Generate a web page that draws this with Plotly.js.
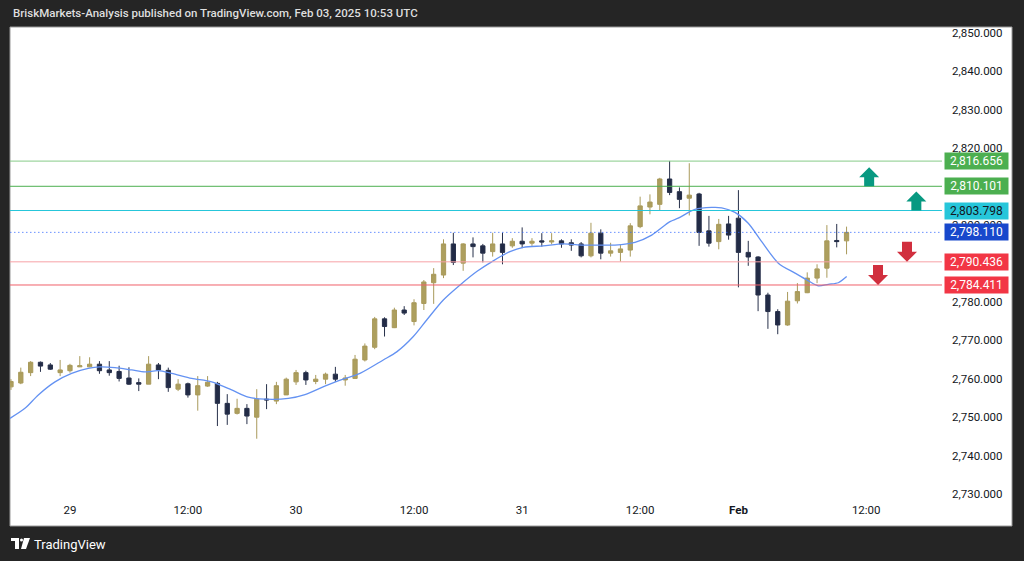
<!DOCTYPE html>
<html>
<head>
<meta charset="utf-8">
<script src="https://cdn.plot.ly/plotly-3.0.1.min.js"></script>
<style>
html,body{margin:0;padding:0;background:#252525;}
#chart{width:1024px;height:561px;}
</style>
</head>
<body>
<div id="chart"></div>
<script>
// Hourly bars, index 0 = Jan 28 17:00 ... index 85 = Feb 3 10:00
const barOpen = [2757.9,2758.9,2761.6,2764.3,2763.6,2761.6,2762.1,2763.1,2763.1,2763.8,
 2762.3,2761.9,2760.2,2759.0,2758.6,2763.6,2762.2,2757.3,2758.7,2755.8,
 2758.1,2758.8,2753.6,2751.0,2752.3,2750.0,2754.7,2754.2,2755.8,2759.2,
 2761.6,2759.3,2759.9,2761.2,2759.7,2760.1,2764.9,2768.2,2775.6,2773.3,
 2777.9,2774.9,2779.6,2785.0,2787.0,2795.1,2790.1,2795.1,2794.6,2793.1,
 2795.1,2794.6,2795.8,2795.3,2795.9,2795.6,2795.9,2795.4,2795.1,2792.0,
 2797.9,2792.7,2792.9,2793.5,2799.6,2804.7,2805.4,2812.0,2808.7,2807.0,
 2808.1,2798.5,2795.7,2800.3,2801.8,2792.9,2791.7,2781.8,2777.5,2774.0,
 2780.3,2782.4,2786.2,2788.8,2796.0,2795.9];
const barHigh = [2759.9,2762.9,2764.6,2764.5,2764.1,2764.9,2763.9,2765.9,2765.6,2764.6,
 2764.6,2763.4,2763.0,2760.1,2765.9,2764.1,2762.9,2759.9,2759.0,2760.7,
 2760.7,2759.2,2756.0,2754.8,2753.4,2757.3,2758.6,2759.2,2760.3,2762.3,
 2762.1,2761.0,2761.6,2763.1,2761.0,2766.2,2769.2,2776.1,2776.0,2778.5,
 2778.9,2780.7,2785.7,2788.8,2796.3,2798.0,2795.3,2796.8,2795.1,2798.0,
 2798.0,2796.6,2799.4,2796.6,2797.9,2797.9,2796.3,2796.3,2795.6,2800.6,
 2798.9,2795.4,2794.8,2800.5,2807.4,2808.0,2812.3,2816.7,2809.8,2816.1,
 2808.4,2802.4,2801.6,2802.4,2809.1,2795.9,2791.9,2782.4,2778.1,2782.6,
 2784.9,2787.7,2789.8,2800.0,2800.3,2799.6];
const barLow = [2757.1,2758.6,2760.7,2761.8,2762.3,2760.7,2761.6,2763.1,2763.0,2761.3,
 2760.8,2759.3,2758.4,2756.8,2758.6,2759.9,2756.6,2756.8,2755.1,2751.7,
 2757.9,2747.7,2748.0,2750.7,2748.2,2744.4,2752.1,2753.4,2755.8,2758.4,
 2758.4,2758.6,2758.6,2759.2,2758.2,2760.0,2764.5,2767.7,2771.0,2773.2,
 2776.6,2773.9,2777.9,2779.5,2786.2,2789.6,2788.1,2791.6,2790.3,2791.8,
 2789.8,2794.1,2794.0,2794.6,2794.4,2795.0,2794.1,2793.3,2791.6,2791.6,
 2791.1,2791.8,2790.5,2791.8,2799.2,2802.8,2803.9,2807.8,2804.4,2802.5,
 2794.6,2794.4,2793.7,2796.2,2783.8,2789.4,2777.6,2773.0,2771.6,2773.8,
 2779.6,2782.3,2784.9,2786.3,2794.2,2792.4];
const barClose = [2759.3,2761.7,2764.3,2763.3,2762.5,2762.3,2763.5,2763.4,2763.8,2762.1,
 2761.6,2760.1,2758.6,2758.6,2763.8,2762.3,2757.7,2758.6,2755.8,2758.2,
 2759.1,2753.6,2750.8,2752.3,2750.3,2754.7,2754.5,2758.2,2759.9,2761.6,
 2759.7,2759.9,2761.2,2759.9,2760.2,2765.1,2768.5,2775.6,2773.6,2777.9,
 2777.1,2779.8,2785.2,2787.2,2795.1,2790.3,2795.1,2794.4,2792.7,2795.1,
 2792.9,2795.8,2795.1,2795.8,2795.6,2795.9,2795.1,2794.8,2792.0,2797.9,
 2792.7,2793.3,2793.8,2799.8,2805.0,2806.0,2812.0,2808.5,2806.7,2807.8,
 2798.1,2795.3,2800.2,2797.4,2792.9,2791.7,2781.8,2777.5,2774.0,2780.2,
 2782.7,2786.2,2788.6,2795.9,2795.7,2798.11];

// Moving average line (bar index, price)
const emaX = [-0.1,1.42,2.78,4.48,6.17,7.86,9.05,10.58,12.28,13.63,14.98,16.35,18.38,20.42,22.45,24.14,25.84,28.21,29.91,32.12,33.8,35.5,37.87,39.24,40.93,42.29,43.98,45.68,47.38,49.06,50.76,52.12,54.15,56.19,58.22,60.25,61.44,63.48,65.18,67.04,67.88,69.58,71.28,72.3,73.65,75.0,76.37,78.06,79.76,81.11,82.12,83.14,84.16,85.01];
const emaY = [2749.7,2752.3,2755.8,2759.2,2761.4,2762.7,2763.1,2762.9,2762.3,2761.8,2762.1,2761.4,2760.1,2759.2,2757.1,2755.2,2754.7,2754.9,2755.9,2758.3,2759.9,2761.4,2764.9,2767.0,2771.0,2775.3,2780.5,2784.4,2787.9,2790.7,2793.1,2794.2,2794.6,2795.1,2794.8,2794.8,2794.8,2795.5,2797.4,2800.9,2801.8,2804.1,2804.6,2804.5,2803.3,2800.5,2795.7,2790.1,2787.5,2785.5,2784.2,2784.6,2785.0,2786.6];

// Time axis labels
const tickIdx = [6,18,29,41,52,64,74,87];
const tickText = ['29','12:00','30','12:00','31','12:00','<b>Feb</b>','12:00'];

// Price levels
const levelValues = [2816.656, 2810.101, 2803.798, 2790.436, 2784.411];
const levelLineColors = ['#86cc89', '#4caf50', '#26c6da', '#f7a1a6', '#f0606a'];
const levelBoxColors = ['#4caf50', '#4caf50', '#26c6da', '#f23645', '#f23645'];
const levelTextColors = ['#ffffff', '#ffffff', '#131722', '#ffffff', '#ffffff'];
const lastPrice = 2798.110;

// Arrows (bar index, level price they sit on, direction)
const arrowX = [87.3, 92.1, 91.15, 88.2];
const arrowY = [2810.101, 2803.798, 2790.436, 2784.411];
const arrowDir = ['up', 'up', 'down', 'down'];

// price scale ticks (2,810 and 2,790 sit fully under the level boxes)
const yTicks = [2730,2740,2750,2760,2770,2780,2800,2820,2830,2840,2850];

const idx = barOpen.map((_, i) => i);

const fmt = v => v.toLocaleString('en-US', {minimumFractionDigits: 3, maximumFractionDigits: 3});

const traces = [
  {
    type: 'candlestick', x: idx, open: barOpen, high: barHigh, low: barLow, close: barClose,
    increasing: {line: {color: '#a99a5b', width: 1}, fillcolor: '#ad9f5e'},
    decreasing: {line: {color: '#27304a', width: 1}, fillcolor: '#222b46'},
    whiskerwidth: 0, hoverinfo: 'skip', showlegend: false
  },
  {
    type: 'scatter', mode: 'lines', x: emaX, y: emaY,
    line: {color: '#6492f2', width: 1.3, shape: 'spline', smoothing: 0.8},
    hoverinfo: 'skip', showlegend: false
  }
];

const W = 1024, H = 561, ml = 10, mr = 82, mt = 27, mb = 60;
const pw = W - ml - mr, ph = H - mt - mb;
const px2paperX = p => (p - ml) / pw;
const px2paperY = p => (H - mb - p) / ph;

const shapes = [];
// white panel
shapes.push({type: 'rect', xref: 'paper', yref: 'paper', layer: 'below',
  x0: px2paperX(10), x1: px2paperX(1012), y0: px2paperY(526), y1: px2paperY(27),
  fillcolor: '#ffffff', line: {color: '#9a9a9a', width: 1}});
// levels
levelValues.forEach((v, i) => {
  shapes.push({type: 'line', xref: 'paper', yref: 'y', x0: 0, x1: 1, y0: v, y1: v,
    line: {color: levelLineColors[i], width: 1}});
});
// last price dotted line
shapes.push({type: 'line', xref: 'paper', yref: 'y', x0: 0, x1: 1, y0: lastPrice, y1: lastPrice,
  line: {color: 'rgba(41,98,255,0.7)', width: 1, dash: '1.5px,2.5px'}});
// arrows
arrowX.forEach((ax, i) => {
  const up = arrowDir[i] === 'up';
  const path = up
    ? 'M -5,0 L 5,0 L 5,9 L 10,9 L 0,19 L -10,9 L -5,9 Z'
    : 'M 0,0 L 10,10 L 5,10 L 5,20 L -5,20 L -5,10 L -10,10 Z';
  shapes.push({type: 'path', xref: 'x', yref: 'y', xsizemode: 'pixel', ysizemode: 'pixel',
    xanchor: ax, yanchor: arrowY[i], path: path,
    fillcolor: up ? '#089981' : '#d12f3e', line: {width: 0}});
});
// TradingView logo glyph
shapes.push({type: 'rect', xref: 'paper', yref: 'paper', x0: px2paperX(11), x1: px2paperX(19), y0: px2paperY(541), y1: px2paperY(538), fillcolor: '#ffffff', line: {width: 0}});
shapes.push({type: 'rect', xref: 'paper', yref: 'paper', x0: px2paperX(15), x1: px2paperX(19), y0: px2paperY(549), y1: px2paperY(538), fillcolor: '#ffffff', line: {width: 0}});
shapes.push({type: 'circle', xref: 'paper', yref: 'paper', x0: px2paperX(20), x1: px2paperX(23), y0: px2paperY(541.5), y1: px2paperY(538.5), fillcolor: '#ffffff', line: {width: 0}});
shapes.push({type: 'path', xref: 'paper', yref: 'paper',
  path: `M ${px2paperX(24)},${px2paperY(538)} L ${px2paperX(30)},${px2paperY(538)} L ${px2paperX(26)},${px2paperY(549)} L ${px2paperX(21)},${px2paperY(549)} Z`,
  fillcolor: '#ffffff', line: {width: 0}});

const annotations = [];
levelValues.forEach((v, i) => {
  annotations.push({xref: 'paper', yref: 'y', x: px2paperX(944), y: v, xanchor: 'left', yanchor: 'middle',
    text: fmt(v), showarrow: false, bgcolor: levelBoxColors[i], width: 61, height: 14, borderpad: 1,
    font: {family: 'Roboto, sans-serif', size: 12, color: levelTextColors[i]}});
});
annotations.push({xref: 'paper', yref: 'y', x: px2paperX(944), y: lastPrice, xanchor: 'left', yanchor: 'middle',
  text: fmt(lastPrice), showarrow: false, bgcolor: '#1848cc', width: 61, height: 14, borderpad: 1,
  font: {family: 'Roboto, sans-serif', size: 12, color: '#ffffff'}});
annotations.push({xref: 'paper', yref: 'paper', x: px2paperX(11), y: px2paperY(13), xanchor: 'left', yanchor: 'middle',
  text: 'BriskMarkets-Analysis published on TradingView.com, Feb 03, 2025 10:53 UTC', showarrow: false,
  font: {family: 'Roboto, sans-serif', size: 11.5, color: '#dedede', weight: 500}});
annotations.push({xref: 'paper', yref: 'paper', x: px2paperX(32), y: px2paperY(544), xanchor: 'left', yanchor: 'middle',
  text: 'TradingView', showarrow: false,
  font: {family: 'Roboto, sans-serif', size: 13, color: '#ffffff'}});

const layout = {
  width: W, height: H,
  margin: {l: ml, r: mr, t: mt, b: mb, pad: 0},
  paper_bgcolor: '#252525', plot_bgcolor: 'rgba(0,0,0,0)',
  showlegend: false, boxgap: 0.38,
  xaxis: {range: [-0.1, 94.71], showgrid: false, zeroline: false, showline: false,
    tickmode: 'array', tickvals: tickIdx, ticktext: tickText, ticks: '',
    tickfont: {family: 'Roboto, sans-serif', size: 11.5, color: '#131722'},
    rangeslider: {visible: false}, fixedrange: true},
  yaxis: {side: 'right', range: [2728.19, 2851.56], showgrid: false, zeroline: false, showline: false,
    tickmode: 'array', tickvals: yTicks, tickformat: ',.3f', ticks: '', ticklabelstandoff: 9,
    tickfont: {family: 'Roboto, sans-serif', size: 11.5, color: '#131722'}, fixedrange: true},
  shapes: shapes, annotations: annotations
};

Plotly.newPlot('chart', traces, layout, {displayModeBar: false, staticPlot: true});
</script>
</body>
</html>
